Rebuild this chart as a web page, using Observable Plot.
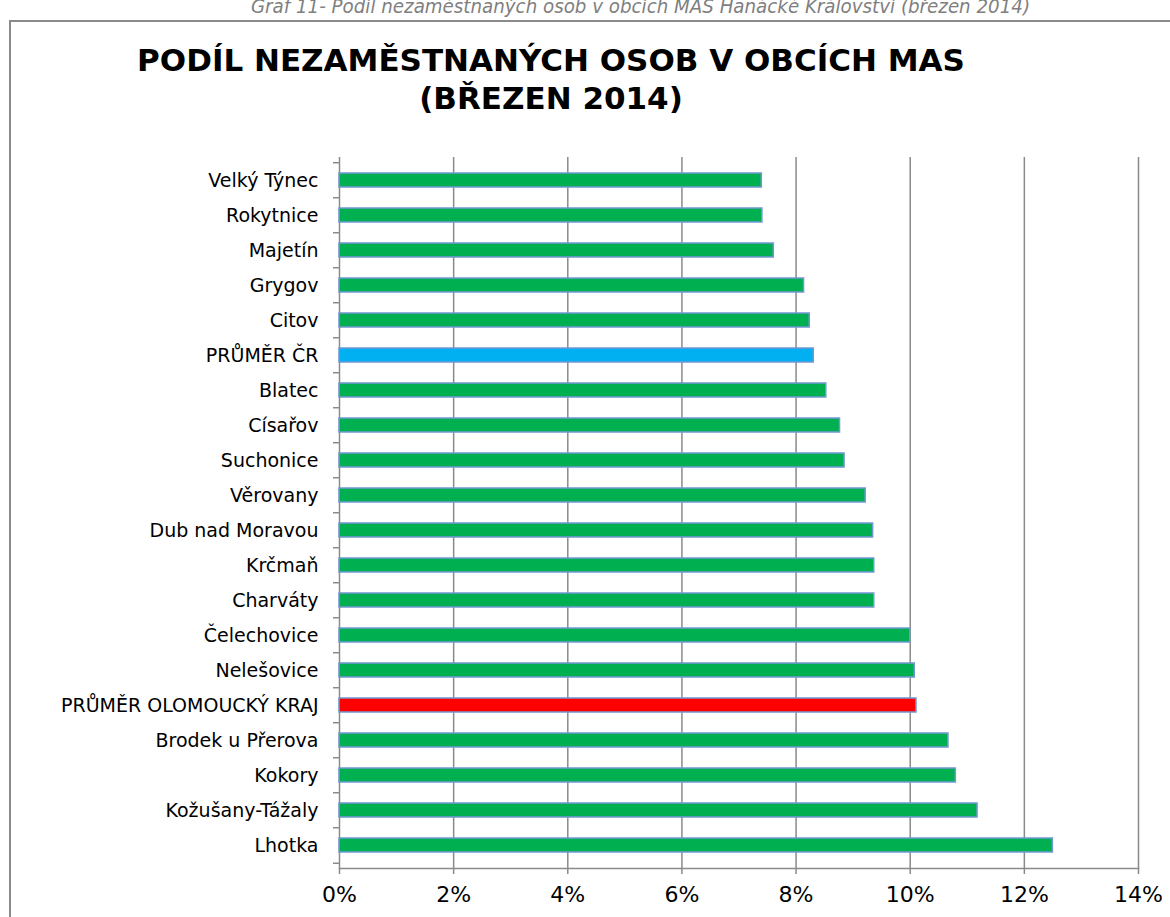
<!DOCTYPE html>
<html><head><meta charset="utf-8">
<script src="https://cdn.jsdelivr.net/npm/d3@7"></script>
<script src="https://cdn.jsdelivr.net/npm/@observablehq/plot@0.6"></script>
<style>
html,body{margin:0;padding:0;background:#fff;}
body{width:1170px;height:917px;overflow:hidden;position:relative;font-family:"DejaVu Sans",sans-serif;}
#frame{position:absolute;left:9px;top:20px;width:1300px;height:1000px;border-left:2px solid #8a8a8a;border-top:2px solid #8a8a8a;}
#caption{position:absolute;top:-6px;left:0;width:1281px;text-align:center;font-family:"DejaVu Sans Condensed","DejaVu Sans",sans-serif;font-style:italic;font-size:20.3px;line-height:24px;color:#7f7f7f;white-space:nowrap;}
#title{position:relative;height:130px;box-sizing:border-box;padding-top:41px;width:1102px;text-align:center;font-weight:bold;font-size:31px;line-height:38px;color:#000;white-space:nowrap;}
#chart{position:relative;}
</style></head><body>
<div id="frame"></div>
<div id="caption">Graf 11- Podíl nezaměstnaných osob v obcích MAS Hanácké Království (březen 2014)</div>
<div id="title">PODÍL NEZAMĚSTNANÝCH OSOB V OBCÍCH MAS<br>(BŘEZEN 2014)</div>
<div id="chart"></div>
<script>
const categories = ["Velký Týnec","Rokytnice","Majetín","Grygov","Citov","PRŮMĚR ČR","Blatec","Císařov","Suchonice","Věrovany","Dub nad Moravou","Krčmaň","Charváty","Čelechovice","Nelešovice","PRŮMĚR OLOMOUCKÝ KRAJ","Brodek u Přerova","Kokory","Kožušany-Tážaly","Lhotka"];
const values = [7.40,7.41,7.61,8.14,8.24,8.31,8.53,8.77,8.85,9.22,9.35,9.37,9.37,10.00,10.08,10.11,10.67,10.80,11.18,12.50];
const groups = ["obec","obec","obec","obec","obec","ČR","obec","obec","obec","obec","obec","obec","obec","obec","obec","kraj","obec","obec","obec","obec"];
const xTicks = [0,2,4,6,8,10,12,14];
const groupNames = ["obec","ČR","kraj"];
const groupColors = ["#00B050","#00B0F0","#FF0000"];

const data = categories.map((c,i)=>({name:c, value:values[i], group:groups[i]}));
const W=1170, H=787, mt=27, mb=49, ml=339, mr=32;
const step=(H-mt-mb)/categories.length;
const grey="#8a8a8a";

const chart = Plot.plot({
  width:W, height:H, marginTop:mt, marginBottom:mb, marginLeft:ml, marginRight:mr,
  style:{fontFamily:'"DejaVu Sans",sans-serif', fontSize:"19px", color:"#000", background:"transparent"},
  x:{domain:[0,14]},
  y:{domain:categories, paddingInner:0.6, paddingOuter:0.3},
  color:{domain:groupNames, range:groupColors},
  marks:[
    Plot.gridX(xTicks,{stroke:grey, strokeOpacity:1, strokeWidth:1.5}),
    Plot.frame({anchor:"bottom", stroke:grey, strokeWidth:1.5}),
    Plot.barX(data,{x:"value", y:"name", fill:"group", stroke:"#7298D4", strokeWidth:1.5}),
    Plot.axisY({tickSize:6, fill:"none", stroke:grey, strokeWidth:1.5, dy:-step/2, label:null}),
    Plot.axisY([categories[categories.length-1]],{tickSize:6, fill:"none", stroke:grey, strokeWidth:1.5, dy:step/2, label:null}),
    Plot.axisY({tickSize:0, tickPadding:21, label:null, fontSize:19}),
    Plot.axisX(xTicks,{tickSize:6, stroke:grey, strokeWidth:1.5, tickPadding:12, fontSize:22, tickFormat:d=>d+"%", label:null})
  ]
});
document.getElementById("chart").appendChild(chart);
</script>
</body></html>
